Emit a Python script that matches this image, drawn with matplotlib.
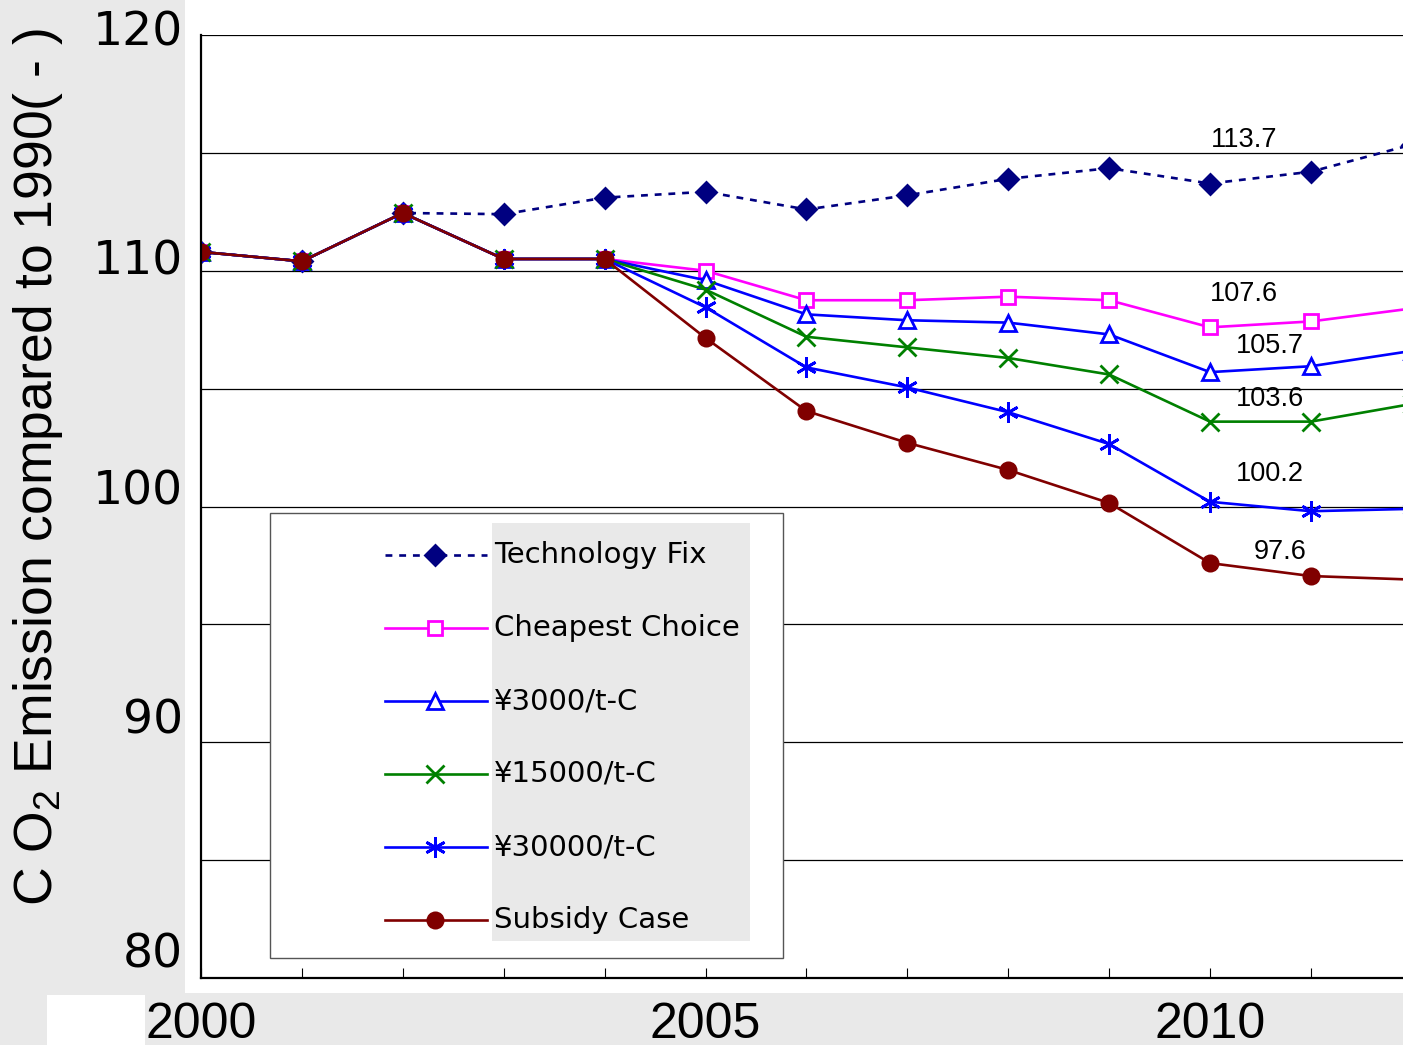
import matplotlib
matplotlib.use("Agg")
import matplotlib.pyplot as plt
from matplotlib.patches import Rectangle
from matplotlib.lines import Line2D

# dados (emissao de CO2, 1990 = 100)
years = list(range(2000, 2013))
tech_fix = [110.8, 110.4, 112.45, 112.4, 113.1, 113.35, 112.6, 113.2, 113.9, 114.35, 113.7, 114.2, 115.35]
cheapest = [110.8, 110.4, 112.45, 110.5, 110.5, 110.0, 108.75, 108.75, 108.9, 108.75, 107.6, 107.85, 108.4]
yen3000 = [110.8, 110.4, 112.45, 110.5, 110.5, 109.6, 108.15, 107.9, 107.8, 107.3, 105.7, 105.95, 106.6]
yen15000 = [110.8, 110.4, 112.45, 110.5, 110.5, 109.2, 107.2, 106.75, 106.3, 105.6, 103.6, 103.6, 104.35]
yen30000 = [110.8, 110.4, 112.45, 110.5, 110.5, 108.45, 105.9, 105.05, 104.0, 102.65, 100.2, 99.8, 99.9]
subsidy = [110.8, 110.4, 112.45, 110.5, 110.5, 107.15, 104.05, 102.7, 101.55, 100.15, 97.6, 97.05, 96.9]

labels = ["Technology Fix", "Cheapest Choice", "¥3000/t-C", "¥15000/t-C", "¥30000/t-C", "Subsidy Case"]
y_ticks = [80, 90, 100, 110, 120]
x_ticklabels = [2000, 2005, 2010]

series = [tech_fix, cheapest, yen3000, yen15000, yen30000, subsidy]
cores = ["#000080", "#ff00ff", "#0000ff", "#008000", "#0000ff", "#800000"]
marcadores = ["D", "s", "^", "x", (6, 2, 0), "o"]
faces = ["#000080", "white", "white", "#008000", "#0000ff", "#800000"]
tamanhos = [10, 10, 11, 13, 15, 11]
estilos = [(0, (2.6, 2.6)), "-", "-", "-", "-", "-"]
# deslocamento (pixels) dos rotulos de 2010
offsets = [(34, 44), (34, 33), (60, 26), (60, 23), (60, 28), (70, 11)]
# no original os numeros do eixo y ficam um pouco acima das linhas
y_lab_sobe = [23, 21, 14, 9, 2]

W, H = 1403, 1045
cinza = "#e9e9e9"
fig = plt.figure(figsize=(W / 100, H / 100), dpi=100, facecolor=cinza)

# areas brancas do fundo
fig.add_artist(Rectangle((185 / W, (H - 993) / H), 1 - 185 / W, 993 / H,
                         transform=fig.transFigure, facecolor="white", edgecolor="none", zorder=-2))
fig.add_artist(Rectangle((47 / W, 0), 98 / W, 50 / H,
                         transform=fig.transFigure, facecolor="white", edgecolor="none", zorder=-2))

ax = fig.add_axes([201 / W, 67 / H, 1 - 201 / W, 943 / H])
ax.set_facecolor("white")

for ys, c, m, fc, ms, ls in zip(series, cores, marcadores, faces, tamanhos, estilos):
    ax.plot(years, ys, color=c, linestyle=ls, linewidth=1.9, marker=m, markersize=ms,
            markerfacecolor=fc, markeredgecolor=c, markeredgewidth=2)

i10 = years.index(2010)
for ys, (dx, dy) in zip(series, offsets):
    ax.annotate(f"{ys[i10]:.1f}", (2010, ys[i10]), xytext=(dx, dy), textcoords="offset pixels",
                ha="center", va="center", fontsize=19.5, family="Liberation Sans")

ax.set_yticks(y_ticks)
ax.set_yticks([85, 95, 105, 115], minor=True)
ax.grid(True, which="both", axis="y", color="black", linewidth=0.9)
ax.set_axisbelow(True)
ax.tick_params(axis="y", which="both", length=0, labelleft=False)
for v, up in zip(y_ticks, y_lab_sobe):
    ax.annotate(str(v), (0, v), xycoords=("axes fraction", "data"), xytext=(-18, up),
                textcoords="offset pixels", ha="right", va="center", fontsize=34,
                family="DejaVu Sans", annotation_clip=False)

ax.set_xticks(x_ticklabels)
ax.set_xticks(years, minor=True)
ax.tick_params(axis="x", which="both", direction="in", length=7, width=0.8, pad=17, labelsize=36)
for t in ax.get_xticklabels():
    t.set_family("Liberation Sans")

# limites depois dos ticks (set_xticks alarga a vista)
ax.set_xlim(2000, 2000 + (W - 201) / 100.9)
ax.set_ylim(80, 120)

ax.spines["top"].set_visible(False)
ax.spines["right"].set_visible(False)
ax.spines["left"].set_linewidth(1.6)
ax.spines["bottom"].set_linewidth(1.6)

plt.rcParams["mathtext.fontset"] = "custom"
plt.rcParams["mathtext.rm"] = "Liberation Sans"
fig.text(38 / W, 1 - 467 / H, "C O$_2$ Emission compared to 1990( - )", rotation=90,
         ha="center", va="center", fontsize=38.5, family="Liberation Sans")

# legenda desenhada a mao (caixa + fundo cinza do texto)
fig.add_artist(Rectangle((270 / W, 1 - 958 / H), 513 / W, 445 / H, transform=fig.transFigure,
                         facecolor="white", edgecolor="#555555", linewidth=1, zorder=3))
fig.add_artist(Rectangle((492 / W, 1 - 941 / H), 258 / W, 418 / H, transform=fig.transFigure,
                         facecolor=cinza, edgecolor="none", zorder=4))
for i, (lab, c, m, fc, ms, ls) in enumerate(zip(labels, cores, marcadores, faces, tamanhos, estilos)):
    yy = 1 - (555 + 73 * i) / H
    fig.add_artist(Line2D([385 / W, 435 / W, 487 / W], [yy, yy, yy], transform=fig.transFigure,
                          color=c, linestyle=ls, linewidth=1.9, marker=m, markersize=ms,
                          markerfacecolor=fc, markeredgecolor=c, markeredgewidth=2,
                          markevery=[1], zorder=5))
    fig.text(494 / W, yy, lab, ha="left", va="center", fontsize=21, family="DejaVu Sans", zorder=6)

fig.savefig("out.png", dpi=100, facecolor=cinza)
